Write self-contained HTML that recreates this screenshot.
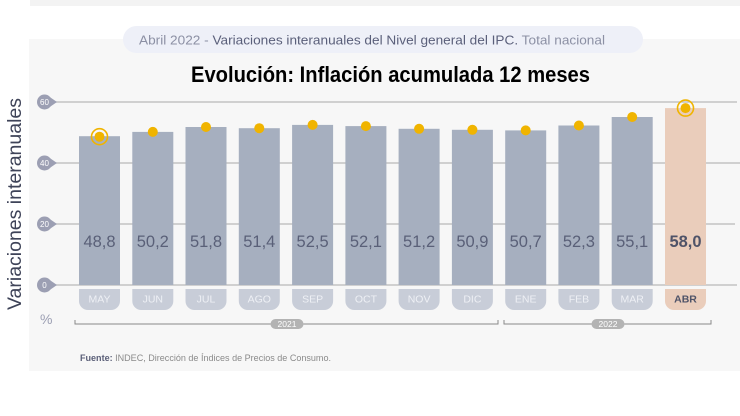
<!DOCTYPE html>
<html>
<head>
<meta charset="utf-8">
<style>
  html, body { margin: 0; padding: 0; background: #ffffff; }
  body { width: 740px; height: 416px; overflow: hidden; }
  svg { display: block; }
  text { font-family: "Liberation Sans", "DejaVu Sans", sans-serif; }
</style>
</head>
<body>
<svg width="740" height="416" viewBox="0 0 740 416" xmlns="http://www.w3.org/2000/svg">
  <!-- top band -->
  <rect x="30" y="0" width="710" height="6" fill="#f3f3f3"/>
  <!-- panel -->
  <rect x="29" y="39" width="711" height="332" fill="#f7f7f7"/>
  <!-- header pill -->
  <rect x="123" y="26" width="520" height="27" rx="13.5" fill="#eef0f8"/>
  <text x="139" y="44.5" font-size="13" textLength="466" lengthAdjust="spacingAndGlyphs"><tspan fill="#8c90a4">Abril 2022 - </tspan><tspan fill="#5a5f7a">Variaciones interanuales del Nivel general del IPC.</tspan><tspan fill="#8c90a4"> Total nacional</tspan></text>

  <!-- title -->
  <text x="191" y="82" font-size="22" font-weight="bold" fill="#000" textLength="399" lengthAdjust="spacingAndGlyphs">Evolución: Inflación acumulada 12 meses</text>

  <!-- y axis title -->
  <text transform="translate(21,204) rotate(-90)" x="0" y="0" text-anchor="middle" font-size="19.5" fill="#3e4358" textLength="212" lengthAdjust="spacingAndGlyphs">Variaciones interanuales</text>

  <!-- gridlines -->
  <g stroke="#b8b8b8" stroke-width="1.2">
    <line x1="50" y1="102" x2="737" y2="102"/>
    <line x1="50" y1="163" x2="740" y2="163"/>
    <line x1="50" y1="224" x2="735" y2="224"/>
    <line x1="50" y1="285" x2="737" y2="285"/>
  </g>
  <!-- tick bubbles -->
  <g fill="#9c9fb3">
    <circle cx="44.5" cy="102" r="7.5"/><path d="M49 96.5 L57 102 L49 107.5 Z"/>
    <circle cx="44.5" cy="163" r="7.5"/><path d="M49 157.5 L57 163 L49 168.5 Z"/>
    <circle cx="44.5" cy="224" r="7.5"/><path d="M49 218.5 L57 224 L49 229.5 Z"/>
    <circle cx="44.5" cy="285" r="7.5"/><path d="M49 279.5 L57 285 L49 290.5 Z"/>
  </g>
  <g fill="#ffffff" font-size="8" text-anchor="middle">
    <text x="44.5" y="105">60</text>
    <text x="44.5" y="166">40</text>
    <text x="44.5" y="227">20</text>
    <text x="44.5" y="288">0</text>
  </g>

  <!-- bars -->
  <g fill="#a6afbf">
    <rect x="79.0" y="136.2" width="41" height="148.8"/>
    <rect x="132.3" y="131.9" width="41" height="153.1"/>
    <rect x="185.5" y="127.0" width="41" height="158.0"/>
    <rect x="238.8" y="128.2" width="41" height="156.8"/>
    <rect x="292.1" y="124.9" width="41" height="160.1"/>
    <rect x="345.4" y="126.1" width="41" height="158.9"/>
    <rect x="398.6" y="128.8" width="41" height="156.2"/>
    <rect x="451.9" y="129.8" width="41" height="155.2"/>
    <rect x="505.2" y="130.4" width="41" height="154.6"/>
    <rect x="558.4" y="125.5" width="41" height="159.5"/>
    <rect x="611.7" y="117.0" width="41" height="168.0"/>
  </g>
  <rect x="665.0" y="108.1" width="41" height="176.9" fill="#eacdbb"/>

  <!-- value labels -->
  <g font-size="16.5" fill="#5a6078" text-anchor="middle">
    <text x="99.5" y="247">48,8</text>
    <text x="152.8" y="247">50,2</text>
    <text x="206.0" y="247">51,8</text>
    <text x="259.3" y="247">51,4</text>
    <text x="312.6" y="247">52,5</text>
    <text x="365.9" y="247">52,1</text>
    <text x="419.1" y="247">51,2</text>
    <text x="472.4" y="247">50,9</text>
    <text x="525.7" y="247">50,7</text>
    <text x="578.9" y="247">52,3</text>
    <text x="632.2" y="247">55,1</text>
  </g>
  <text x="685.5" y="247" font-size="16.5" font-weight="bold" fill="#4f5368" text-anchor="middle">58,0</text>

  <!-- dots -->
  <g fill="#f0b400">
    <circle cx="99.5" cy="136.7" r="5"/>
    <circle cx="152.8" cy="131.9" r="5"/>
    <circle cx="206.0" cy="127.0" r="5"/>
    <circle cx="259.3" cy="128.2" r="5"/>
    <circle cx="312.6" cy="124.9" r="5"/>
    <circle cx="365.9" cy="126.1" r="5"/>
    <circle cx="419.1" cy="128.8" r="5"/>
    <circle cx="472.4" cy="129.8" r="5"/>
    <circle cx="525.7" cy="130.4" r="5"/>
    <circle cx="578.9" cy="125.5" r="5"/>
    <circle cx="632.2" cy="117.0" r="5"/>
    <circle cx="685.5" cy="108.1" r="5"/>
  </g>
  <g fill="none" stroke="#f0b400" stroke-width="1.6">
    <circle cx="99.5" cy="136.7" r="8"/>
    <circle cx="685.5" cy="108.1" r="8"/>
  </g>

  <!-- month pills -->
  <g fill="#c8cdd8">
    <path d="M79 289 h41 v12 a9 9 0 0 1 -9 9 h-23 a9 9 0 0 1 -9 -9 Z"/>
    <path d="M132.3 289 h41 v12 a9 9 0 0 1 -9 9 h-23 a9 9 0 0 1 -9 -9 Z"/>
    <path d="M185.5 289 h41 v12 a9 9 0 0 1 -9 9 h-23 a9 9 0 0 1 -9 -9 Z"/>
    <path d="M238.8 289 h41 v12 a9 9 0 0 1 -9 9 h-23 a9 9 0 0 1 -9 -9 Z"/>
    <path d="M292.1 289 h41 v12 a9 9 0 0 1 -9 9 h-23 a9 9 0 0 1 -9 -9 Z"/>
    <path d="M345.4 289 h41 v12 a9 9 0 0 1 -9 9 h-23 a9 9 0 0 1 -9 -9 Z"/>
    <path d="M398.6 289 h41 v12 a9 9 0 0 1 -9 9 h-23 a9 9 0 0 1 -9 -9 Z"/>
    <path d="M451.9 289 h41 v12 a9 9 0 0 1 -9 9 h-23 a9 9 0 0 1 -9 -9 Z"/>
    <path d="M505.2 289 h41 v12 a9 9 0 0 1 -9 9 h-23 a9 9 0 0 1 -9 -9 Z"/>
    <path d="M558.4 289 h41 v12 a9 9 0 0 1 -9 9 h-23 a9 9 0 0 1 -9 -9 Z"/>
    <path d="M611.7 289 h41 v12 a9 9 0 0 1 -9 9 h-23 a9 9 0 0 1 -9 -9 Z"/>
  </g>
  <path d="M665 289 h41 v12 a9 9 0 0 1 -9 9 h-23 a9 9 0 0 1 -9 -9 Z" fill="#eacdbb"/>
  <g font-size="10.5" fill="#eef0f5" text-anchor="middle">
    <text x="99.5" y="302.5">MAY</text>
    <text x="152.8" y="302.5">JUN</text>
    <text x="206.0" y="302.5">JUL</text>
    <text x="259.3" y="302.5">AGO</text>
    <text x="312.6" y="302.5">SEP</text>
    <text x="365.9" y="302.5">OCT</text>
    <text x="419.1" y="302.5">NOV</text>
    <text x="472.4" y="302.5">DIC</text>
    <text x="525.7" y="302.5">ENE</text>
    <text x="578.9" y="302.5">FEB</text>
    <text x="632.2" y="302.5">MAR</text>
  </g>
  <text x="685.5" y="302.5" font-size="10.5" font-weight="bold" fill="#4f5368" text-anchor="middle">ABR</text>

  <!-- % -->
  <text x="40" y="324" font-size="14" fill="#9c9fb3">%</text>

  <!-- year brackets -->
  <g stroke="#8a8a8a" stroke-width="1" fill="none">
    <path d="M75 320 V324 H498 V320"/>
    <path d="M504 320 V324 H711 V320"/>
  </g>
  <rect x="270.5" y="319" width="33" height="10" rx="5" fill="#b3b3b3"/>
  <rect x="591.5" y="319" width="33" height="10" rx="5" fill="#b3b3b3"/>
  <g font-size="8.5" fill="#ffffff" text-anchor="middle">
    <text x="287" y="327.2">2021</text>
    <text x="608" y="327.2">2022</text>
  </g>

  <!-- source -->
  <text x="80" y="361" font-size="9.5" fill="#8a8a8a" textLength="251" lengthAdjust="spacingAndGlyphs"><tspan font-weight="bold" fill="#5b5f78">Fuente:</tspan> INDEC, Dirección de Índices de Precios de Consumo.</text>
</svg>
</body>
</html>
